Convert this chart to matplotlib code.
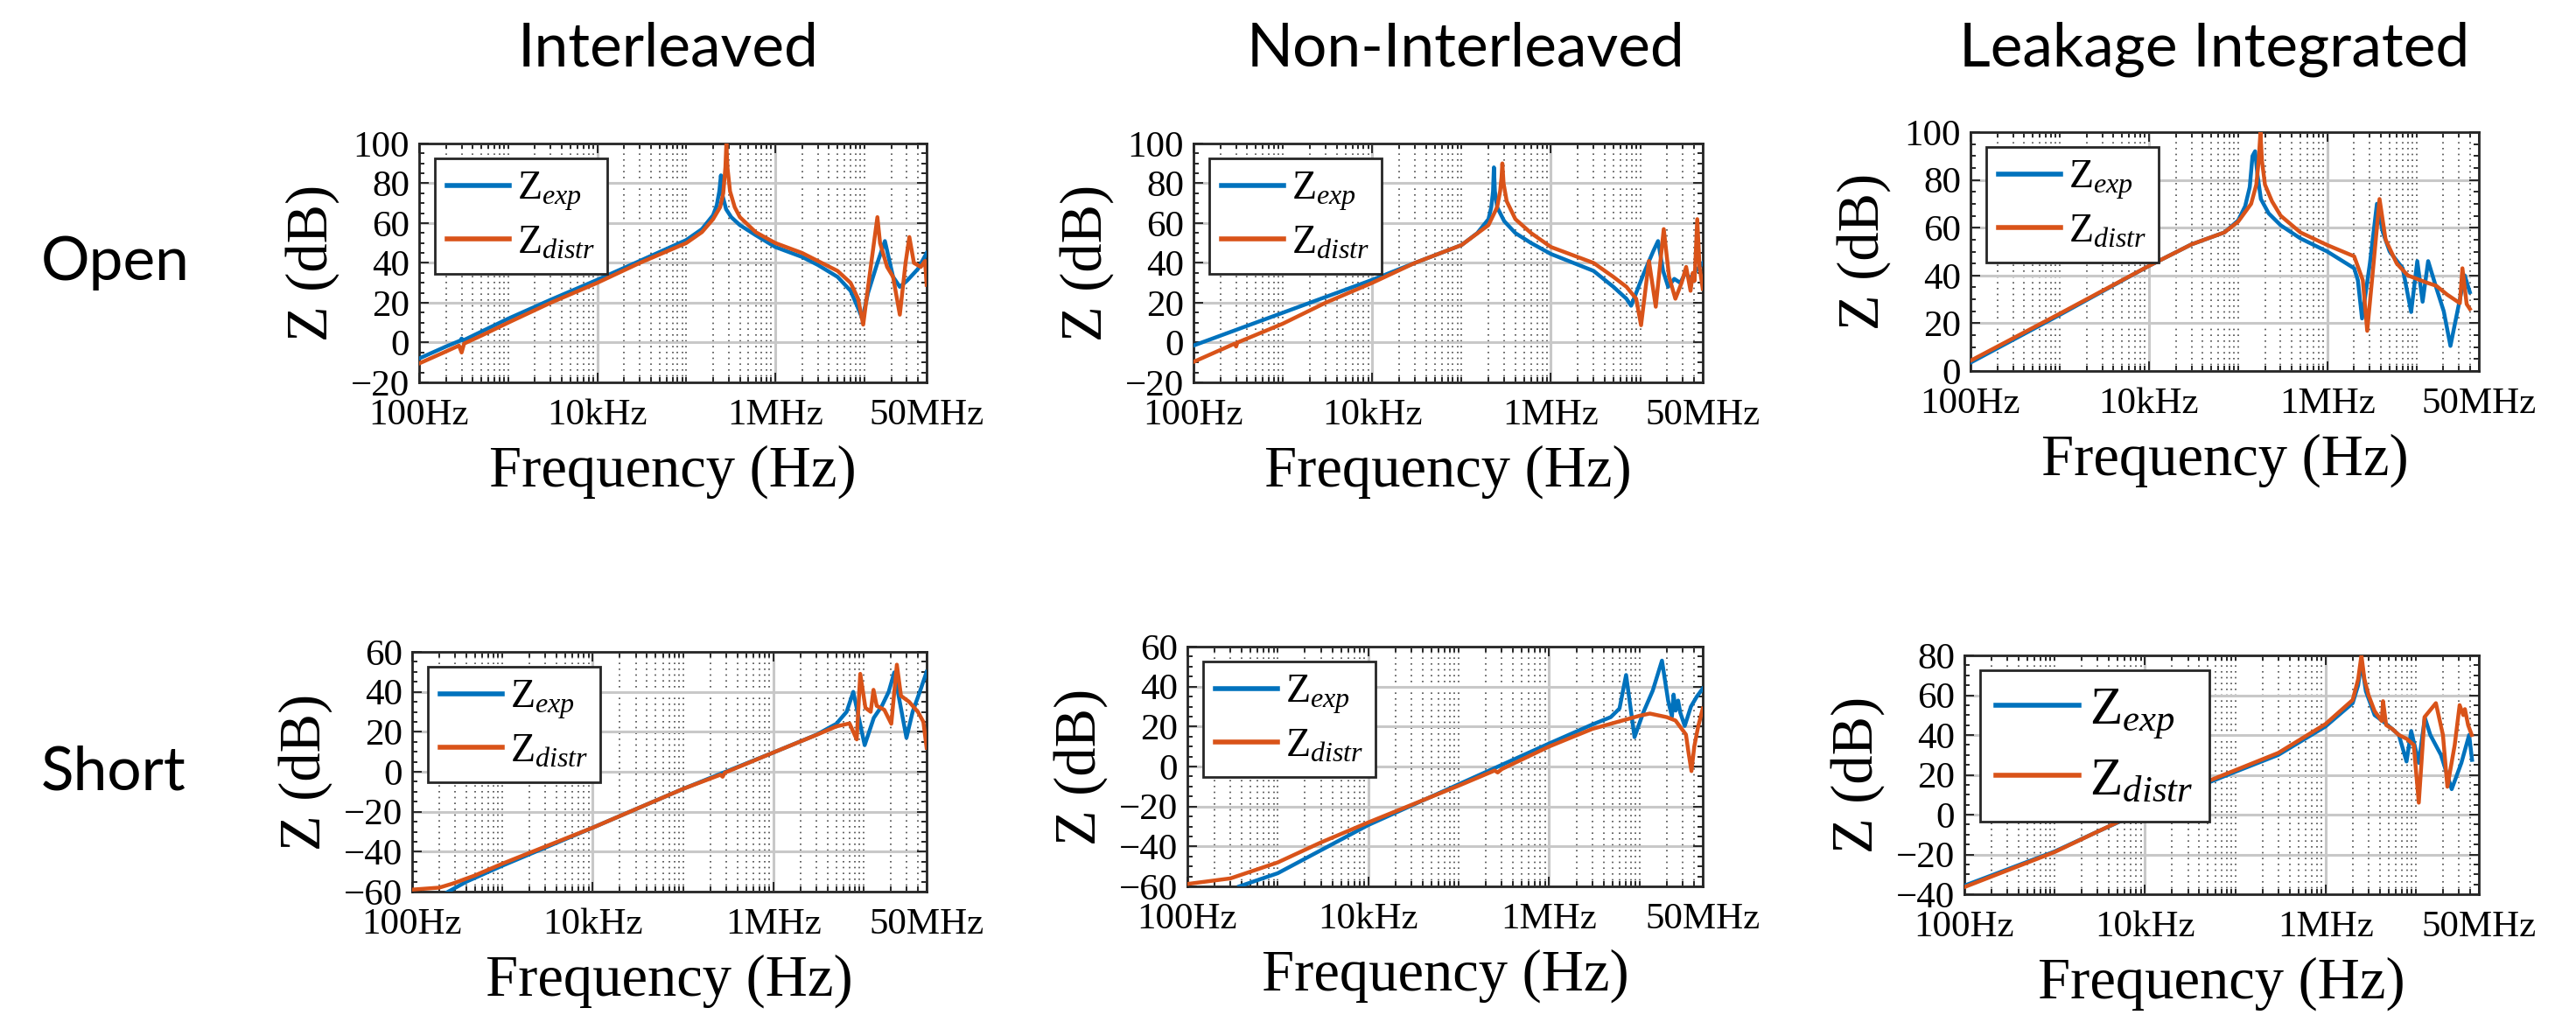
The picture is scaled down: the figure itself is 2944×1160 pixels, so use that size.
import matplotlib
matplotlib.use("Agg")
import matplotlib.pyplot as plt
from matplotlib.ticker import FixedLocator, LogLocator, NullFormatter, MultipleLocator, AutoMinorLocator

plt.rcParams['font.family'] = 'Liberation Serif'
plt.rcParams['mathtext.fontset'] = 'custom'
plt.rcParams['mathtext.rm'] = 'Liberation Serif'
plt.rcParams['mathtext.it'] = 'Liberation Serif:italic'

# ---- data (frequency in Hz, impedance in dB) ----
# Open / Interleaved
open_il_f_exp = [100, 200, 290, 300, 310, 500, 1e3, 3e3, 1e4, 3e4, 1e5, 1.5e5, 2e5, 2.2e5, 2.35e5, 2.45e5, 2.55e5,
                 2.8e5, 3.2e5, 4e5, 6e5, 1e6, 2e6, 3e6, 5e6, 7e6, 8e6, 9.5e6, 1.1e7, 1.4e7, 1.7e7, 2.1e7, 2.5e7,
                 3e7, 4e7, 5e7]
open_il_z_exp = [-8, -2, 1, 2, 1, 5.5, 12, 21.5, 31.5, 41, 51.5, 57, 64, 69, 76, 84, 74,
                 67, 63, 59, 54, 48, 43, 39, 33, 26, 20, 12, 25, 40, 51, 33, 28,
                 31, 37, 45]
open_il_f_dis = [100, 200, 280, 300, 320, 500, 1e3, 3e3, 1e4, 3e4, 1e5, 1.5e5, 2e5, 2.4e5, 2.6e5, 2.75e5, 2.82e5,
                 2.9e5, 3.1e5, 3.5e5, 4e5, 6e5, 1e6, 2e6, 3e6, 5e6, 7e6, 8.5e6, 9.7e6, 1.1e7, 1.4e7, 1.5e7, 1.8e7,
                 2.1e7, 2.5e7, 2.9e7, 3.2e7, 3.6e7, 4.3e7, 4.8e7, 5e7]
open_il_z_dis = [-10.5, -4.5, -1.5, -5, -0.5, 3.5, 10, 20, 30, 40, 50, 55.5, 62, 68, 75, 88, 100,
                 88, 76, 68, 63, 55.5, 50, 45, 41, 36, 30, 22, 9, 28, 63, 50, 38,
                 33, 14, 40, 53, 40, 38, 41, 29]

# Open / Non-Interleaved
open_ni_f_exp = [100, 1e3, 1e4, 3e4, 1e5, 1.5e5, 2e5, 2.15e5, 2.25e5, 2.3e5, 2.36e5, 2.5e5, 3e5, 4e5, 6e5, 1e6,
                 3e6, 5e6, 7e6, 7.9e6, 9e6, 1.1e7, 1.4e7, 1.58e7, 1.8e7, 2.05e7, 2.4e7, 2.8e7, 3.2e7, 3.7e7, 4.2e7,
                 5e7]
open_ni_z_exp = [-1.5, 15, 31.5, 40, 49, 55, 62, 68, 76, 88, 76, 68, 61, 55, 50, 44.5,
                 36, 28, 22, 18.5, 25, 35, 46, 51, 36, 28, 32, 30, 35, 32, 36,
                 40]
open_ni_f_dis = [100, 290, 300, 310, 1e3, 3e3, 1e4, 3e4, 1e5, 2e5, 2.5e5, 2.7e5, 2.8e5, 2.86e5, 2.95e5, 3.2e5,
                 4e5, 6e5, 1e6, 3e6, 5e6, 7e6, 9e6, 1.02e7, 1.25e7, 1.49e7, 1.83e7, 2.1e7, 2.47e7, 2.9e7, 3.26e7,
                 3.65e7, 3.87e7, 4.05e7, 4.34e7, 4.6e7, 5e7]
open_ni_z_dis = [-9.7, -0.5, -2, 0, 9.5, 20, 30, 40, 49, 59, 68, 76, 83, 90, 80, 71,
                 62, 55, 48, 40, 33, 28, 22, 8.7, 41, 18, 57, 33, 22, 30, 38,
                 26, 35, 31, 62, 38, 27]

# Open / Leakage Integrated
open_li_f_exp = [100, 1e3, 1e4, 3e4, 7e4, 1e5, 1.2e5, 1.35e5, 1.45e5, 1.55e5, 1.65e5, 1.8e5, 2.2e5, 3e5, 5e5, 1e6,
                 2e6, 2.2e6, 2.45e6, 3e6, 3.6e6, 4.2e6, 5e6, 7e6, 8.7e6, 1.02e7, 1.17e7, 1.35e7, 1.66e7, 2.02e7,
                 2.4e7, 3.06e7, 3.47e7, 3.96e7]
open_li_z_exp = [3.5, 23.5, 44, 53, 58, 63, 69, 77, 90, 92, 82, 72, 66, 61, 55.5, 50,
                 43, 38, 22, 45, 70, 58, 50, 43, 24.7, 46, 29, 46, 35, 25,
                 10.5, 30, 40, 33]
open_li_f_dis = [100, 1e3, 1e4, 3e4, 7e4, 1e5, 1.4e5, 1.6e5, 1.7e5, 1.78e5, 1.85e5, 2e5, 2.4e5, 3e5, 5e5, 1e6,
                 2e6, 2.5e6, 2.8e6, 3.3e6, 3.85e6, 4.5e6, 6e6, 8e6, 1.3e7, 1.66e7, 2.2e7, 3.06e7, 3.27e7, 3.65e7,
                 3.96e7]
open_li_z_dis = [4.3, 24, 44, 53, 58, 62.5, 70, 78, 88, 100, 88, 78, 71, 65, 58, 52.7,
                 48, 38, 16.8, 45, 72, 55, 45, 40, 37, 35.7, 32, 28.4, 43, 28,
                 26]

# Short / Interleaved
short_il_f_exp = [230, 400, 1e3, 1e4, 1e5, 1e6, 3e6, 5e6, 6.5e6, 7.7e6, 1.03e7, 1.3e7, 1.6e7, 1.9e7, 2.19e7, 2.99e7,
                  3.5e7, 4.2e7, 5e7]
short_il_z_exp = [-61, -55, -47, -28, -8.6, 9.6, 18.5, 24, 30, 40, 13.3, 27, 33, 40, 49.7, 17,
                  30, 40, 50]
short_il_f_dis = [100, 200, 280, 490, 1e3, 1e4, 1e5, 2.6e5, 2.75e5, 2.9e5, 1e6, 3e6, 5e6, 7e6, 8.4e6, 9.2e6,
                  1.05e7, 1.2e7, 1.29e7, 1.4e7, 1.7e7, 2.03e7, 2.34e7, 2.6e7, 3.2e7, 4e7, 4.6e7, 5e7]
short_il_z_dis = [-59, -58, -56, -52, -46, -28, -8.6, -1.5, -2.5, -0.5, 9.6, 18.4, 22.7, 24.2, 16.2, 49,
                  32, 30, 41, 33, 31, 24, 53.6, 38, 35, 30, 25, 12]

# Short / Non-Interleaved
short_ni_f_exp = [375, 1e3, 1e4, 1e5, 1e6, 3e6, 4.8e6, 6e6, 7.1e6, 8.8e6, 1.1e7, 1.4e7, 1.77e7, 2.07e7, 2.28e7,
                  2.38e7, 2.51e7, 2.67e7, 2.82e7, 3.16e7, 3.7e7, 4.3e7, 5e7]
short_ni_z_exp = [-60, -53.4, -29.3, -8.9, 11.5, 21, 24.7, 29, 45.8, 14.7, 27, 38, 53, 33, 25,
                  36, 28, 33, 27, 20.3, 30, 35, 39]
short_ni_f_dis = [100, 300, 1e3, 3e3, 1e4, 1e5, 2.5e5, 2.7e5, 3e5, 1e6, 3e6, 1e7, 1.3e7, 2e7, 2.5e7, 3.26e7,
                  3.48e7, 3.75e7, 4.03e7, 4.45e7, 5e7]
short_ni_z_dis = [-58.8, -56, -48, -38, -28, -9.6, -2, -3, -1.3, 10, 18.8, 25.4, 26.5, 24.7, 23, 16,
                  7, -2.3, 10, 20, 29]

# Short / Leakage Integrated
short_li_f_exp = [100, 1e3, 3e3, 3e4, 1e5, 3e5, 1e6, 2e6, 2.3e6, 2.5e6, 2.8e6, 3.5e6, 4.3e6, 5.5e6, 6.5e6, 7.9e6,
                  8.9e6, 1.08e7, 1.26e7, 1.45e7, 1.9e7, 2.5e7, 3.2e7, 3.9e7, 4.2e7]
short_li_z_exp = [-35.7, -18.5, -8.5, 12, 21.5, 30, 44.3, 56, 65, 76.7, 62, 50, 47, 43, 40, 26.7,
                  42, 26, 48.7, 40, 30, 12.8, 26, 40, 27.5]
short_li_f_dis = [100, 1e3, 3e3, 3e4, 1e5, 3e5, 1e6, 2e6, 2.3e6, 2.5e6, 2.7e6, 3e6, 3.5e6, 4.2e6, 4.34e6, 4.7e6,
                  5.5e6, 6.5e6, 8e6, 9.5e6, 1.08e7, 1.25e7, 1.67e7, 2e7, 2.24e7, 2.7e7, 3.06e7, 3.36e7, 3.5e7,
                  3.8e7, 4.17e7]
short_li_z_dis = [-36.4, -18.8, -8.5, 12.8, 22.3, 31, 45.5, 57.6, 68, 80, 68, 60, 52, 47, 57, 45,
                  43, 40, 38, 35, 6, 49, 56, 40, 14, 35, 55, 50, 53, 45, 40]

col_titles = ['Interleaved', 'Non-Interleaved', 'Leakage Integrated']
row_titles = ['Open', 'Short']
xtick_vals = [1e2, 1e4, 1e6, 5e7]
xtick_labels = ['100Hz', '10kHz', '1MHz', '50MHz']
legend_labels = [r'$\mathrm{Z}_{exp}$', r'$\mathrm{Z}_{distr}$']
ylims = [(-20, 100), (-20, 100), (0, 100), (-60, 60), (-60, 60), (-40, 80)]

panels = [
    (open_il_f_exp, open_il_z_exp, open_il_f_dis, open_il_z_dis),
    (open_ni_f_exp, open_ni_z_exp, open_ni_f_dis, open_ni_z_dis),
    (open_li_f_exp, open_li_z_exp, open_li_f_dis, open_li_z_dis),
    (short_il_f_exp, short_il_z_exp, short_il_f_dis, short_il_z_dis),
    (short_ni_f_exp, short_ni_z_exp, short_ni_f_dis, short_ni_z_dis),
    (short_li_f_exp, short_li_z_exp, short_li_f_dis, short_li_z_dis),
]

# ---- layout (pixel boxes: left, top, right, bottom) ----
W, H = 2944, 1160
boxes = [(479, 164, 1059, 437), (1364, 164, 1946, 437), (2252, 151, 2833, 424),
         (471, 745, 1059, 1019), (1357, 739, 1946, 1013), (2245, 749, 2833, 1022)]
blue = '#0072BD'
orange = '#D95319'

fig = plt.figure(figsize=(W / 100, H / 100), dpi=100)

for i, (fe, ze, fd, zd) in enumerate(panels):
    l, t, r, b = boxes[i]
    ax = fig.add_axes([l / W, 1 - b / H, (r - l) / W, (b - t) / H])
    ax.plot(fe, ze, color=blue, lw=3.2, label=legend_labels[0], zorder=3)
    ax.plot(fd, zd, color=orange, lw=3.2, label=legend_labels[1], zorder=4)
    ax.set_xscale('log')
    ax.set_xlim(1e2, 5e7)
    ax.set_ylim(*ylims[i])
    ax.xaxis.set_major_locator(FixedLocator(xtick_vals))
    ax.set_xticklabels(xtick_labels)
    ax.xaxis.set_minor_locator(LogLocator(base=10, subs=range(1, 10), numticks=20))
    ax.xaxis.set_minor_formatter(NullFormatter())
    ax.yaxis.set_major_locator(MultipleLocator(20))
    ax.yaxis.set_minor_locator(AutoMinorLocator(4))
    ax.set_axisbelow(True)
    ax.grid(which='major', color='#c8c8c8', lw=2.2)
    ax.grid(which='minor', axis='x', color='#4a4a4a', ls=(0, (1, 3)), lw=1.2)
    ax.tick_params(which='both', direction='in', top=True, right=True, labelsize=31, width=1.4,
                   color='#262626')
    ax.tick_params(which='major', length=8)
    ax.tick_params(which='minor', length=4)
    ax.tick_params(axis='x', pad=13)
    ax.tick_params(axis='y', pad=8)
    for s in ax.spines.values():
        s.set_linewidth(2)
        s.set_color('#262626')

    ax.set_ylabel('Z (dB)', fontsize=48)
    ax.yaxis.set_label_coords(-122 / (r - l), 0.5)
    ax.yaxis.label.set_va('center')
    ax.set_xlabel('Frequency (Hz)', fontsize=48)
    ax.xaxis.set_label_coords(0.5, -102 / (b - t))
    ax.xaxis.label.set_va('center')

    fs = 44 if i == 5 else 33
    leg = ax.legend(loc='upper left', bbox_to_anchor=(18 / (r - l), 1 - 17 / (b - t)), borderaxespad=0,
                    fontsize=fs, handlelength=1.55, handletextpad=0.2, borderpad=0.3, labelspacing=0.3,
                    fancybox=False, framealpha=1, edgecolor='#262626')
    leg.get_frame().set_linewidth(2)
    for ln in leg.get_lines():
        ln.set_linewidth(4)

title_x = [764, 1675, 2531]
for x, txt in zip(title_x, col_titles):
    fig.text(x / W, 1 - 56 / H, txt, fontsize=50, family='Lato', ha='center', va='center')
row_y = [300, 883]
for y, txt in zip(row_y, row_titles):
    fig.text(47 / W, 1 - y / H, txt, fontsize=50, family='Lato', ha='left', va='center')

fig.savefig('out.png', dpi=100)
